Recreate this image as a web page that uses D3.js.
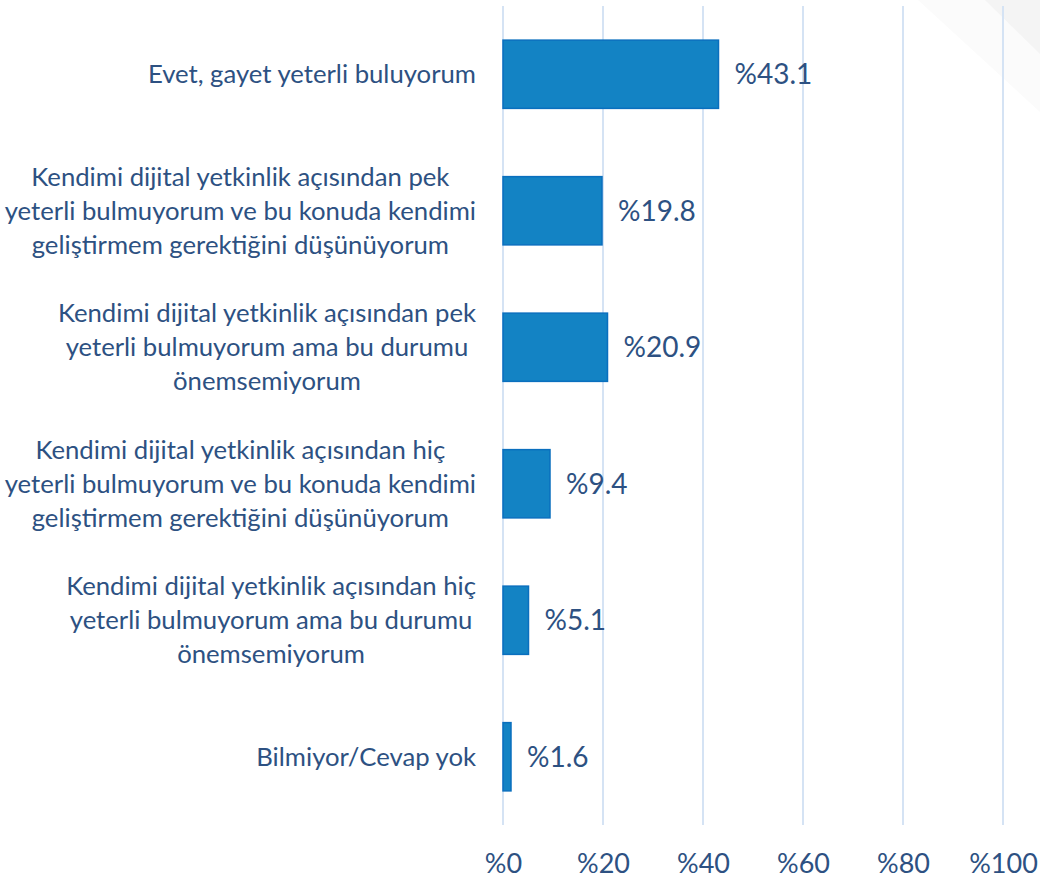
<!DOCTYPE html>
<html>
<head>
<meta charset="utf-8">
<script src="https://cdn.jsdelivr.net/npm/d3@7"></script>
<style>
  html, body { margin: 0; padding: 0; background: #ffffff; }
  svg { display: block; }
</style>
</head>
<body>
<svg id="chart" width="1040" height="885"></svg>
<script>
// Survey answers (each label broken into its display lines)
const categories = [
  "Evet, gayet yeterli buluyorum",
  "Kendimi dijital yetkinlik açısından pek\nyeterli bulmuyorum ve bu konuda kendimi\ngeliştirmem gerektiğini düşünüyorum",
  "Kendimi dijital yetkinlik açısından pek\nyeterli bulmuyorum ama bu durumu\nönemsemiyorum",
  "Kendimi dijital yetkinlik açısından hiç\nyeterli bulmuyorum ve bu konuda kendimi\ngeliştirmem gerektiğini düşünüyorum",
  "Kendimi dijital yetkinlik açısından hiç\nyeterli bulmuyorum ama bu durumu\nönemsemiyorum",
  "Bilmiyor/Cevap yok"
];
const values = [43.1, 19.8, 20.9, 9.4, 5.1, 1.6];
const tickValues = [0, 20, 40, 60, 80, 100];

const textColor = "#2D5182";
const fontFamily = "Lato, 'Open Sans', sans-serif";

const svg = d3.select("#chart");

// Soft diagonal panels in the top-right corner
svg.append("polygon")
  .attr("points", "918,0 1040,0 1040,112")
  .attr("fill", "#fbfbfb");
svg.append("polygon")
  .attr("points", "985,0 1040,0 1040,54")
  .attr("fill", "#f4f4f4");

const x = d3.scaleLinear().domain([0, 100]).range([503, 1003]);
const y = d3.scaleBand().domain(categories).range([6, 825])
  .paddingInner(0.5).paddingOuter(0.25);

// Vertical gridlines
svg.append("g").selectAll("line").data(tickValues).join("line")
  .attr("x1", d => x(d)).attr("x2", d => x(d))
  .attr("y1", 6).attr("y2", 825)
  .attr("stroke", "#D5E3F4").attr("stroke-width", 2);

// Bars
svg.append("g").selectAll("rect").data(values).join("rect")
  .attr("x", x(0))
  .attr("y", (d, i) => y(categories[i]))
  .attr("width", d => x(d) - x(0))
  .attr("height", y.bandwidth())
  .attr("fill", "#1383C4")
  .attr("stroke", "#0A6FBE")
  .attr("stroke-width", 1.5);

// Value labels
svg.append("g").selectAll("text").data(values).join("text")
  .attr("x", d => x(d) + 16)
  .attr("y", (d, i) => y(categories[i]) + y.bandwidth() / 2)
  .attr("dy", "0.35em")
  .attr("fill", textColor)
  .attr("font-family", fontFamily)
  .attr("font-size", 28)
  .text(d => "%" + d.toFixed(1));

// Bottom axis tick labels
const axis = d3.axisBottom(x).tickValues(tickValues).tickSize(0).tickPadding(0)
  .tickFormat(d => "%" + d);
const axisG = svg.append("g").attr("transform", "translate(0,854)").call(axis);
axisG.select(".domain").remove();
axisG.selectAll("text")
  .attr("fill", textColor)
  .attr("font-family", fontFamily)
  .attr("font-size", 27);

// Category labels: lines centred within a block right-aligned to the axis
const labelRight = 476;
const lineHeight = 34;
const labelG = svg.append("g")
  .attr("font-family", fontFamily)
  .attr("font-size", 25.7)
  .attr("fill", textColor);
categories.forEach(c => {
  const lines = c.split("\n");
  const g = labelG.append("g");
  const cy = y(c) + y.bandwidth() / 2;
  const texts = g.selectAll("text").data(lines).join("text")
    .attr("text-anchor", "middle")
    .attr("y", (d, i) => cy + (i - (lines.length - 1) / 2) * lineHeight)
    .attr("dy", "0.35em")
    .text(d => d);
  let maxW = 0;
  texts.each(function () { maxW = Math.max(maxW, this.getComputedTextLength()); });
  texts.attr("x", labelRight - maxW / 2);
});
</script>
</body>
</html>
